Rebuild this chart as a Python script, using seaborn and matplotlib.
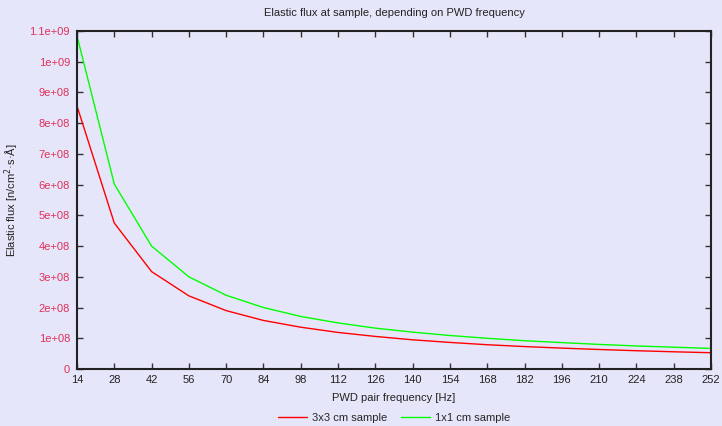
import matplotlib
matplotlib.use("Agg")
import matplotlib.pyplot as plt
import seaborn as sns
import pandas as pd
from matplotlib.lines import Line2D

freq = [14, 28, 42, 56, 70, 84, 98, 112, 126, 140, 154, 168, 182, 196, 210, 224, 238, 252]
flux_3x3 = [8.56e8, 4.75e8, 3.17e8, 2.38e8, 1.90e8, 1.58e8, 1.36e8, 1.19e8, 1.06e8, 0.95e8,
            0.865e8, 0.79e8, 0.73e8, 0.68e8, 0.635e8, 0.595e8, 0.56e8, 0.53e8]
flux_1x1 = [10.84e8, 6.02e8, 4.00e8, 3.00e8, 2.40e8, 2.00e8, 1.71e8, 1.50e8, 1.33e8, 1.20e8,
            1.09e8, 1.00e8, 0.92e8, 0.86e8, 0.80e8, 0.75e8, 0.71e8, 0.67e8]
series_names = ["3x3 cm sample", "1x1 cm sample"]
y_ticks = [0, 1e8, 2e8, 3e8, 4e8, 5e8, 6e8, 7e8, 8e8, 9e8, 1e9, 1.1e9]
y_tick_labels = ["0", "1e+08", "2e+08", "3e+08", "4e+08", "5e+08", "6e+08", "7e+08",
                 "8e+08", "9e+08", "1e+09", "1.1e+09"]

df = pd.DataFrame({
    "freq": freq * 2,
    "flux": flux_3x3 + flux_1x1,
    "series": [series_names[0]] * len(freq) + [series_names[1]] * len(freq),
})

sns.set_theme(style="white")
plt.rcParams["font.family"] = ["Liberation Sans", "DejaVu Sans"]
bg = "#e6e6fa"

fig = plt.figure(figsize=(7.22, 4.26), dpi=100, facecolor=bg)
ax = fig.add_axes([77 / 722, 1 - 369 / 426, (711 - 77) / 722, (369 - 31) / 426])
ax.set_facecolor(bg)

sns.lineplot(data=df, x="freq", y="flux", hue="series",
             palette={series_names[0]: "#ff0000", series_names[1]: "#00ff00"},
             linewidth=1.0, ax=ax, legend=False)

ax.set_xlim(14, 252)
ax.set_ylim(0, 1.1e9)
ax.set_xticks(freq)
ax.set_xticklabels([str(f) for f in freq], fontsize=8, color="#222222")
ax.set_yticks(y_ticks)
ax.set_yticklabels(y_tick_labels, fontsize=8, color="#e0305a")
ax.tick_params(axis="both", direction="in", length=4, width=1, top=True, right=True,
               bottom=True, left=True, color="#333333")
ax.tick_params(axis="y", pad=5)
ax.tick_params(axis="x", pad=4)
for s in ax.spines.values():
    s.set_color("#222222")
    s.set_linewidth(1.5)

ax.set_xlabel("PWD pair frequency [Hz]", fontsize=8, color="#222222", labelpad=6)
ax.set_ylabel("Elastic flux [n/cm$^2$·s·Å]", fontsize=8, color="#222222", labelpad=6.5)
ax.set_title("Elastic flux at sample, depending on PWD frequency", fontsize=8, color="#222222", pad=11)

handles = [Line2D([], [], color="#ff0000", lw=1), Line2D([], [], color="#00ff00", lw=1)]
fig.legend(handles, series_names, loc="center", ncol=2, frameon=False, fontsize=8,
           bbox_to_anchor=(394 / 722, 1 - 418 / 426), handlelength=2.6,
           columnspacing=1.3, handletextpad=0.45)

fig.savefig("out.png", dpi=100, facecolor=bg)
